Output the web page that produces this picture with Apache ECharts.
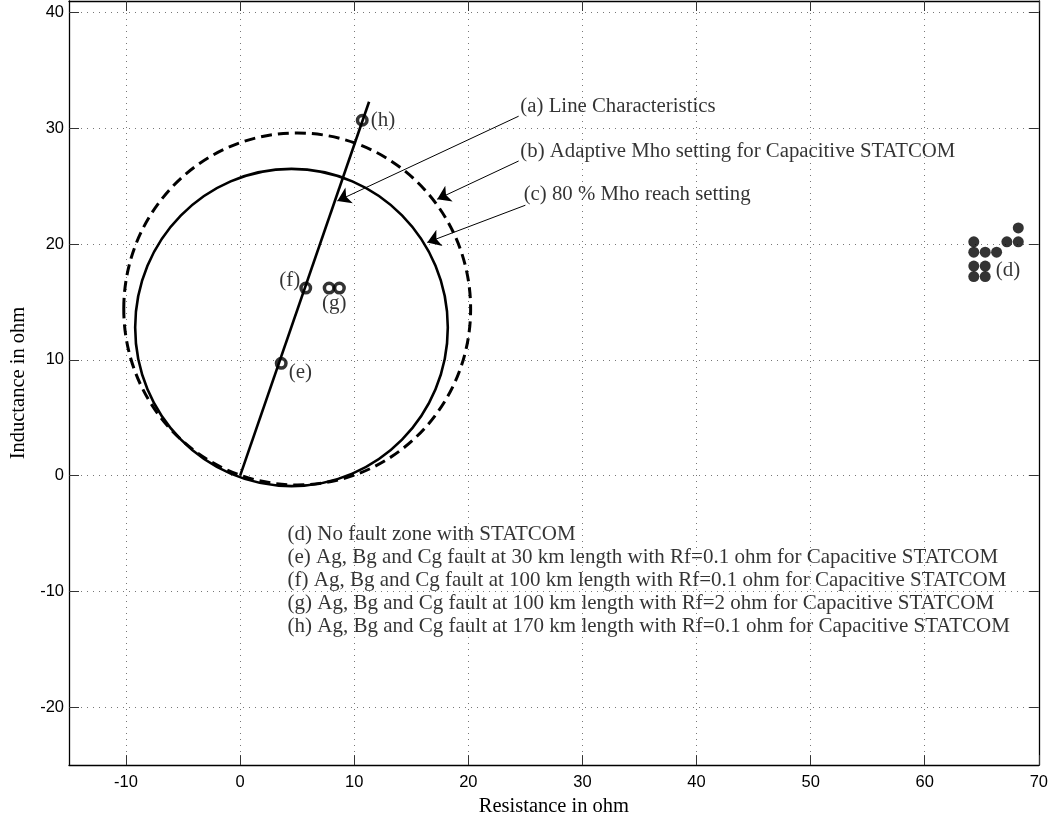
<!DOCTYPE html>
<html><head><meta charset="utf-8">
<script src="https://cdn.jsdelivr.net/npm/echarts@6/dist/echarts.min.js"></script>
<style>html,body{margin:0;padding:0;background:#fff}#c{width:1051px;height:822px}</style>
</head><body><div id="c"></div>
<script>
// ---- data ----
const xTicks = [-10, 0, 10, 20, 30, 40, 50, 60, 70];
const yTicks = [-20, -10, 0, 10, 20, 30, 40];
const lineCharacteristic = [[0, 0], [11.3, 32.3]];
const adaptiveMho = [[5.0, 14.4, 15.2]];   // [centre R, centre X, radius]
const reachMho = [[4.5, 12.8, 13.7]];
const faultE = [[3.6, 9.7]];
const faultF = [[5.75, 16.2]];
const faultG = [[7.8, 16.2], [8.7, 16.2]];
const faultH = [[10.7, 30.7]];
const noFaultZone = [
  [64.3, 20.2], [64.3, 19.3], [65.3, 19.3], [66.3, 19.3],
  [64.3, 18.1], [65.3, 18.1], [64.3, 17.2], [65.3, 17.2],
  [67.2, 20.2], [68.2, 20.2], [68.2, 21.4]
];
const calloutTexts = ['(a) Line Characteristics', '(b) Adaptive Mho setting for Capacitive STATCOM', '(c) 80 % Mho reach setting'];
const calloutTextAt = [[24.56, 31.9], [24.56, 28.04], [24.85, 24.31]];
const calloutArrows = [
  [[24.41, 31.05], [8.52, 23.73]],
  [[24.41, 27.18], [17.27, 23.88]],
  [[25.0, 23.36], [16.4, 20.15]]
];
const noteLines = [
  '(d) No fault zone with STATCOM',
  '(e) Ag, Bg and Cg fault at 30 km length with Rf=0.1 ohm for Capacitive STATCOM',
  '(f) Ag, Bg and Cg fault at 100 km length with Rf=0.1 ohm for Capacitive STATCOM',
  '(g) Ag, Bg and Cg fault at 100 km length with Rf=2 ohm for Capacitive STATCOM',
  '(h) Ag, Bg and Cg fault at 170 km length with Rf=0.1 ohm for Capacitive STATCOM'
];
const noteAt = [4.15, -9.04];

// ---- chart ----
const serif = 'Liberation Serif';
const sans = 'Liberation Sans';
const chart = echarts.init(document.getElementById('c'), null, {renderer: 'canvas'});

function ellipseSeries(data, dashed) {
  return {
    type: 'custom',
    coordinateSystem: 'cartesian2d',
    data: data,
    silent: true,
    z: 3,
    renderItem: function (params, api) {
      const c = api.coord([api.value(0), api.value(1)]);
      const s = api.size([api.value(2), api.value(2)]);
      return {
        type: 'ellipse',
        shape: {cx: c[0], cy: c[1], rx: s[0], ry: s[1]},
        style: {fill: 'none', stroke: '#000', lineWidth: dashed ? 3 : 2.6, lineDash: dashed ? [11, 6] : null}
      };
    }
  };
}

const ringStyle = {color: 'rgba(255,255,255,0)', borderColor: '#000', borderWidth: 3.5};
const labelFont = {fontFamily: serif, fontSize: 21, color: '#000'};
const calloutFont = {fontFamily: serif, fontSize: 20.8, color: '#000'};

const baseX = {
  type: 'value', min: -15, max: 70,
  axisLine: {show: true, onZero: false, lineStyle: {color: '#000', width: 1.3}},
  axisTick: {show: true, inside: true, length: 10, customValues: xTicks, lineStyle: {color: '#333', width: 1}},
};
const baseY = {
  type: 'value', min: -25, max: 41,
  axisLine: {show: true, onZero: false, lineStyle: {color: '#000', width: 1.3}},
  axisTick: {show: true, inside: true, length: 10, customValues: yTicks, lineStyle: {color: '#333', width: 1}},
};

chart.setOption({
  animation: false,
  backgroundColor: '#fff',
  grid: {left: 67, right: 11, top: 1, bottom: 54, containLabel: false},
  xAxis: [
    Object.assign({}, baseX, {
      position: 'bottom',
      name: 'Resistance in ohm', nameLocation: 'middle', nameGap: 29,
      nameTextStyle: {fontFamily: serif, fontSize: 20.5, color: '#000'},
      axisLabel: {show: true, customValues: xTicks, fontFamily: sans, fontSize: 16.5, color: '#000', margin: 9},
      splitLine: {show: true, lineStyle: {color: '#777', width: 1, type: [1, 5]}}
    }),
    Object.assign({}, baseX, {
      position: 'top', axisLabel: {show: false}, splitLine: {show: false}
    })
  ],
  yAxis: [
    Object.assign({}, baseY, {
      position: 'left',
      name: 'Inductance in ohm', nameLocation: 'middle', nameGap: 40,
      nameTextStyle: {fontFamily: serif, fontSize: 20.5, color: '#000'},
      axisLabel: {show: true, customValues: yTicks, fontFamily: sans, fontSize: 16.5, color: '#000', margin: 5},
      splitLine: {show: true, lineStyle: {color: '#777', width: 1, type: [1, 5]}}
    }),
    Object.assign({}, baseY, {
      position: 'right', axisLabel: {show: false}, splitLine: {show: false}
    })
  ],
  series: [
    ellipseSeries(adaptiveMho, true),
    ellipseSeries(reachMho, false),
    {
      type: 'line', data: lineCharacteristic, symbol: 'none', z: 4,
      lineStyle: {color: '#000', width: 2.6}
    },
    {
      type: 'lines', coordinateSystem: 'cartesian2d', z: 5,
      data: calloutArrows.map(c => ({coords: c})),
      symbol: ['none', 'arrow'], symbolSize: [0, 13],
      lineStyle: {color: '#000', width: 1, opacity: 1}
    },
    {
      type: 'scatter', data: faultE, symbol: 'circle', symbolSize: 9.5, z: 6,
      itemStyle: ringStyle,
      label: Object.assign({show: true, formatter: '(e)', position: 'right', distance: 0, offset: [1, 9]}, labelFont)
    },
    {
      type: 'scatter', data: faultF, symbol: 'circle', symbolSize: 9.5, z: 6,
      itemStyle: ringStyle,
      label: Object.assign({show: true, formatter: '(f)', position: 'left', distance: 0, offset: [1, -8]}, labelFont)
    },
    {
      type: 'scatter', data: faultG, symbol: 'circle', symbolSize: 9.5, z: 6,
      itemStyle: ringStyle,
      label: Object.assign({show: true, formatter: function (p) { return p.dataIndex === 0 ? '(g)' : ''; },
        position: 'bottom', distance: 0, offset: [5, -2]}, labelFont)
    },
    {
      type: 'scatter', data: faultH, symbol: 'circle', symbolSize: 9.5, z: 6,
      itemStyle: ringStyle,
      label: Object.assign({show: true, formatter: '(h)', position: 'right', distance: 0, offset: [2, 0]}, labelFont)
    },
    {
      type: 'scatter', data: noFaultZone, symbol: 'circle', symbolSize: 11, z: 6,
      itemStyle: {color: '#000'},
      label: Object.assign({show: true, formatter: function (p) { return p.dataIndex === 5 ? '(d)' : ''; },
        position: 'right', distance: 0, offset: [5, 4]}, labelFont)
    },
    {
      type: 'scatter', symbolSize: 0, z: 7, silent: true,
      data: calloutTextAt.map((p, i) => ({value: [p[0], p[1], calloutTexts[i]]})),
      label: Object.assign({show: true, formatter: p => p.value[2], position: 'right', distance: 0, align: 'left', verticalAlign: 'middle'}, calloutFont)
    },
    {
      type: 'scatter', symbolSize: 0, z: 7, silent: true,
      data: [{value: [noteAt[0], noteAt[1], noteLines.join('\n')]}],
      label: Object.assign({show: true, formatter: p => p.value[2], position: 'right', distance: 0, align: 'left', verticalAlign: 'middle', lineHeight: 23}, labelFont)
    }
  ]
});
</script></body></html>
